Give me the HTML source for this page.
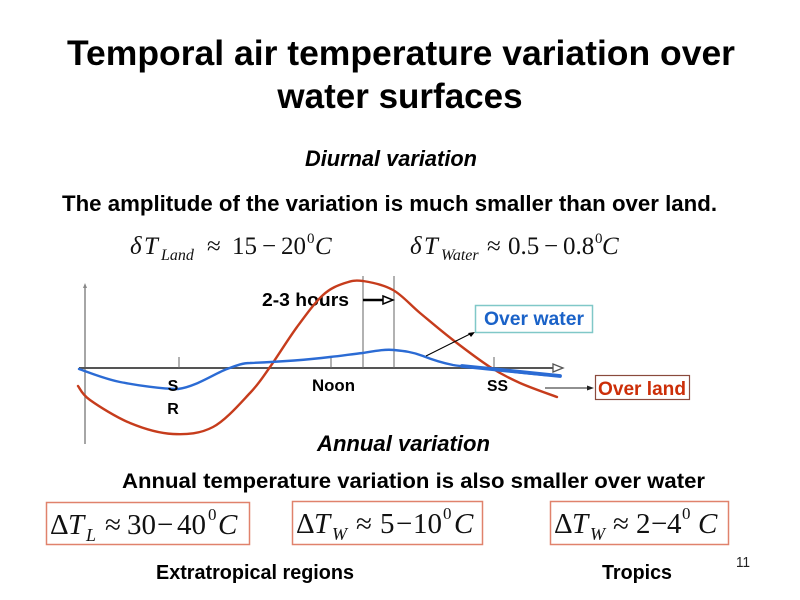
<!DOCTYPE html>
<html>
<head>
<meta charset="utf-8">
<style>
  html,body{margin:0;padding:0;background:#fff;}
  svg{display:block;}
  .b{font-family:"Liberation Sans",Arial,sans-serif;font-weight:bold;fill:#000;}
  .m{font-family:"Liberation Serif","Times New Roman",serif;fill:#111;}
  .i{font-style:italic;}
</style>
</head>
<body>
<svg width="800" height="600" viewBox="0 0 800 600" xmlns="http://www.w3.org/2000/svg">
  <rect width="800" height="600" fill="#fff"/>

  <!-- Title -->
  <text class="b" x="67" y="65" font-size="35" textLength="668" lengthAdjust="spacingAndGlyphs">Temporal air temperature variation over</text>
  <text class="b" x="400" y="108" font-size="35" text-anchor="middle">water surfaces</text>

  <text class="b i" x="305" y="166" font-size="22" textLength="172" lengthAdjust="spacingAndGlyphs">Diurnal variation</text>
  <text class="b" x="62" y="211" font-size="22" textLength="655" lengthAdjust="spacingAndGlyphs">The amplitude of the variation is much smaller than over land.</text>

  <!-- Formula 1 -->
  <g class="m" font-size="25">
    <text x="130" y="254" class="i">δ</text>
    <text x="144" y="254" class="i">T</text>
    <text x="161" y="260" class="i" font-size="16">Land</text>
    <text x="207" y="254">≈</text>
    <text x="232" y="254">15</text>
    <text x="262" y="254">−</text>
    <text x="281" y="254">20</text>
    <text x="307" y="243" font-size="15">0</text>
    <text x="315" y="254" class="i">C</text>
  </g>
  <!-- Formula 2 -->
  <g class="m" font-size="25">
    <text x="410" y="254" class="i">δ</text>
    <text x="424" y="254" class="i">T</text>
    <text x="441" y="260" class="i" font-size="16">Water</text>
    <text x="487" y="254">≈</text>
    <text x="508" y="254">0.5</text>
    <text x="544" y="254">−</text>
    <text x="563" y="254">0.8</text>
    <text x="595" y="243" font-size="15">0</text>
    <text x="602" y="254" class="i">C</text>
  </g>

  <!-- Chart axes -->
  <line x1="85" y1="287" x2="85" y2="444" stroke="#888" stroke-width="1.5"/>
  <polygon points="83,288 85,283 87,288" fill="#888"/>
  <line x1="79" y1="368" x2="554" y2="368" stroke="#555" stroke-width="2"/>
  <polygon points="553,364 563,368 553,372" fill="#fff" stroke="#555" stroke-width="1.3"/>
  <!-- ticks -->
  <line x1="179" y1="357" x2="179" y2="368" stroke="#666" stroke-width="1"/>
  <line x1="331" y1="357" x2="331" y2="368" stroke="#666" stroke-width="1"/>
  <line x1="494" y1="357" x2="494" y2="368" stroke="#666" stroke-width="1"/>
  <!-- vertical lines -->
  <line x1="363" y1="276" x2="363" y2="368" stroke="#666" stroke-width="1"/>
  <line x1="394" y1="276" x2="394" y2="368" stroke="#666" stroke-width="1"/>

  <!-- 2-3 hours -->
  <text class="b" x="262" y="306" font-size="18.5" textLength="87" lengthAdjust="spacingAndGlyphs">2-3 hours</text>
  <line x1="363" y1="300" x2="384" y2="300" stroke="#000" stroke-width="2.5"/>
  <polygon points="383,296 393,300 383,304" fill="#fff" stroke="#000" stroke-width="1.5"/>

  <!-- Land curve -->
  <path d="M78,386 C80,388.3 81.3,393.8 90,400 C98.7,406.2 116.2,417.3 130,423 C143.8,428.7 159.2,433.3 173,434 C186.8,434.7 200.2,433.8 213,427 C225.8,420.2 240.5,403 250,393 C259.5,383 262.2,378 270,367 C277.8,356 288.2,339 297,327 C305.8,315 315,302.3 323,295 C331,287.7 338.3,285.3 345,283 C351.7,280.7 355,280 363,281 C371,282.2 383.5,284.7 393,290 C402.5,295.3 410,304.7 420,313 C430,321.3 441.3,331 453,340 C464.7,349 478.8,359.8 490,367 C501.2,374.2 508.8,378 520,383 C531.2,388 550.8,394.7 557,397" fill="none" stroke="#c63c1c" stroke-width="2.4" stroke-linecap="round"/>

  <!-- Water curve -->
  <path d="M79,369 C85.8,371.2 103.5,378.7 120,382 C136.5,385.3 162,389 178,389 C195.8,386.8 215,373.3 227,369 C235,366 242,363 250,363 C275,362 305,360 330,357 C342,356 352,354 363,353 C375,351 385,349 394,350 C404,351 413,352 423,356 C433,360 443,363 453,365 C465,367 478,368 490,369 C515,372 540,375 560,376" fill="none" stroke="#2b6bd4" stroke-width="2.4" stroke-linecap="round"/>
  <path d="M462,366 C490,369 520,372 560,376" fill="none" stroke="#2b6bd4" stroke-width="3.8" stroke-linecap="round"/>

  <!-- axis labels -->
  <text class="b" x="173" y="391" font-size="16" text-anchor="middle">S</text>
  <text class="b" x="173" y="414" font-size="16" text-anchor="middle">R</text>
  <text class="b" x="312" y="391" font-size="16.5" textLength="43" lengthAdjust="spacingAndGlyphs">Noon</text>
  <text class="b" x="487" y="391" font-size="16" textLength="21" lengthAdjust="spacingAndGlyphs">SS</text>

  <!-- Over water -->
  <line x1="426" y1="356" x2="472" y2="333" stroke="#000" stroke-width="1"/>
  <polygon points="475,332 468,333 471,337" fill="#000"/>
  <rect x="475.5" y="305.5" width="117" height="27" fill="#fff" stroke="#80c8c8" stroke-width="1.5"/>
  <text class="b" x="484" y="325" font-size="19" style="fill:#1a62c8" textLength="100" lengthAdjust="spacingAndGlyphs">Over water</text>

  <!-- Over land -->
  <line x1="545" y1="388" x2="589" y2="388" stroke="#222" stroke-width="1"/>
  <polygon points="594,388 587,385.5 587,390.5" fill="#222"/>
  <rect x="595.5" y="375.5" width="94" height="24" fill="#fff" stroke="#8a4a3c" stroke-width="1.2"/>
  <text class="b" x="598" y="395" font-size="19" style="fill:#cc2e08" textLength="88" lengthAdjust="spacingAndGlyphs">Over land</text>

  <!-- Annual -->
  <text class="b i" x="317" y="451" font-size="22" textLength="173" lengthAdjust="spacingAndGlyphs">Annual variation</text>
  <text class="b" x="122" y="488" font-size="21" textLength="583" lengthAdjust="spacingAndGlyphs">Annual temperature variation is also smaller over water</text>

  <!-- Boxes -->
  <rect x="46.5" y="502.5" width="203" height="42" fill="#fff" stroke="#e0826c" stroke-width="1.5"/>
  <rect x="292.5" y="501.5" width="190" height="43" fill="#fff" stroke="#e0826c" stroke-width="1.5"/>
  <rect x="550.5" y="501.5" width="178" height="43" fill="#fff" stroke="#e0826c" stroke-width="1.5"/>

  <g class="m" font-size="29">
    <text x="50" y="534">Δ</text>
    <text x="68" y="534" class="i">T</text>
    <text x="86" y="541" class="i" font-size="18">L</text>
    <text x="105" y="534">≈</text>
    <text x="127" y="534">30</text>
    <text x="157" y="534">−</text>
    <text x="177" y="534">40</text>
    <text x="208" y="520" font-size="17">0</text>
    <text x="218" y="534" class="i">C</text>
  </g>
  <g class="m" font-size="29">
    <text x="296" y="533">Δ</text>
    <text x="314" y="533" class="i">T</text>
    <text x="332" y="540" class="i" font-size="18">W</text>
    <text x="356" y="533">≈</text>
    <text x="380" y="533">5</text>
    <text x="396" y="533">−</text>
    <text x="413" y="533">10</text>
    <text x="443" y="519" font-size="17">0</text>
    <text x="454" y="533" class="i">C</text>
  </g>
  <g class="m" font-size="29">
    <text x="554" y="533">Δ</text>
    <text x="572" y="533" class="i">T</text>
    <text x="590" y="540" class="i" font-size="18">W</text>
    <text x="613" y="533">≈</text>
    <text x="636" y="533">2</text>
    <text x="651" y="533">−</text>
    <text x="667" y="533">4</text>
    <text x="682" y="519" font-size="17">0</text>
    <text x="698" y="533" class="i">C</text>
  </g>

  <text x="736" y="567" font-size="15" style="font-family:'Liberation Sans',Arial,sans-serif;fill:#222" textLength="14" lengthAdjust="spacingAndGlyphs">11</text>

  <text class="b" x="156" y="579" font-size="20" textLength="198" lengthAdjust="spacingAndGlyphs">Extratropical regions</text>
  <text class="b" x="602" y="579" font-size="20" textLength="70" lengthAdjust="spacingAndGlyphs">Tropics</text>
</svg>
</body>
</html>
